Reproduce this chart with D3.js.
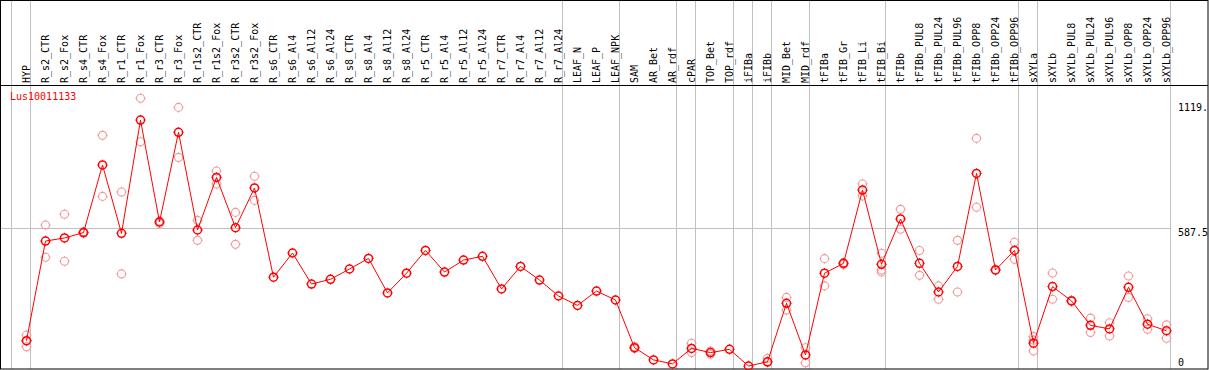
<!DOCTYPE html>
<html>
<head>
<meta charset="utf-8">
<script src="https://cdn.jsdelivr.net/npm/d3@7"></script>
<style>
body { margin: 0; background: #fff; }
text { font-family: "DejaVu Sans Mono", monospace; font-size: 10px; }
</style>
</head>
<body>
<script>
// sample names (columns)
var samples = ["HYP", "R_s2_CTR", "R_s2_Fox", "R_s4_CTR", "R_s4_Fox", "R_r1_CTR", "R_r1_Fox", "R_r3_CTR", "R_r3_Fox",
    "R_r1s2_CTR", "R_r1s2_Fox", "R_r3s2_CTR", "R_r3s2_Fox", "R_s6_CTR", "R_s6_Al4", "R_s6_Al12", "R_s6_Al24",
    "R_s8_CTR", "R_s8_Al4", "R_s8_Al12", "R_s8_Al24", "R_r5_CTR", "R_r5_Al4", "R_r5_Al12", "R_r5_Al24",
    "R_r7_CTR", "R_r7_Al4", "R_r7_Al12", "R_r7_Al24", "LEAF_N", "LEAF_P", "LEAF_NPK", "SAM", "AR_Bet", "AR_rdf",
    "cPAR", "TOP_Bet", "TOP_rdf", "iFIBa", "iFIBb", "MID_Bet", "MID_rdf", "tFIBa", "tFIB_Gr", "tFIB_Li", "tFIB_Bi",
    "tFIBb", "tFIBb_PUL8", "tFIBb_PUL24", "tFIBb_PUL96", "tFIBb_OPP8", "tFIBb_OPP24", "tFIBb_OPP96",
    "sXYLa", "sXYLb", "sXYLb_PUL8", "sXYLb_PUL24", "sXYLb_PUL96", "sXYLb_OPP8", "sXYLb_OPP24", "sXYLb_OPP96"];

// mean expression per sample
var means = [108, 532, 545, 568, 856, 565, 1047, 613, 995,
    579, 803, 589, 758, 378, 481, 349, 369,
    413, 458, 311, 395, 492, 400, 451, 467,
    328, 424, 366, 298, 258, 319, 281, 78, 26, 9,
    75, 57, 71, 0, 18, 267, 47, 395, 437, 749, 433,
    626, 437, 315, 424, 820, 409, 492,
    97, 338, 277, 173, 158, 335, 178, 150];

// replicate values (empty = single replicate)
var reps = [[132, 106, 82], [600, 463], [646, 446], [565, 572], [982, 722], [741, 392], [1140, 955], [617, 607], [1101, 888],
    [620, 535], [830, 775], [654, 518], [808, 705], [], [], [], [],
    [], [], [], [], [], [], [], [],
    [], [], [], [], [], [], [], [83, 74], [], [],
    [97, 57], [64, 50], [], [], [33, 15], [292, 238], [78, 14], [457, 341], [440, 432], [775, 724], [480, 409, 400],
    [667, 582], [492, 386], [341, 284], [535, 315], [969, 676], [411, 407], [527, 454],
    [125, 110, 64], [396, 284], [280, 275], [204, 143], [184, 128], [383, 292], [201, 156], [175, 118]];

// index of last sample in each group (vertical separators)
var groupEnds = [0, 28, 31, 34, 35, 37, 38, 39, 41, 45, 52, 53, 60];

var yTickValues = [1119, 587.5, 0];
var yTickLabels = ["1119.", "587.5", "0"];
var geneName = "Lus10011133";

var width = 1209, height = 370;
var mainColor = "#ff0000";
var repColor = "#f09a9a";
var gridColor = "#c0c0c0";

var svg = d3.select("body").append("svg")
    .attr("width", width)
    .attr("height", height);

var x = d3.scaleBand().domain(samples).range([11.5, 1170.5]);
var y = d3.scaleLinear().domain([0, 1175]).range([366, 90]);

function px(d) { return x(d) + 15; }

// vertical separators
var sepX = [x(samples[0])].concat(groupEnds.map(function (i) { return x(samples[i]) + x.bandwidth(); }));
svg.append("g").selectAll("line")
    .data(sepX)
    .enter().append("line")
    .attr("x1", function (d) { return d; })
    .attr("x2", function (d) { return d; })
    .attr("y1", 0)
    .attr("y2", 369)
    .attr("stroke", gridColor)
    .attr("stroke-width", 1);

// mid grid line
svg.append("line")
    .attr("x1", 1).attr("x2", 1170.5)
    .attr("y1", Math.round(y(587.5)) + 0.5).attr("y2", Math.round(y(587.5)) + 0.5)
    .attr("stroke", gridColor);

// frame
svg.append("rect")
    .attr("x", 0.5).attr("y", 0.5)
    .attr("width", 1207.5).attr("height", 368.5)
    .attr("fill", "none").attr("stroke", "#000");
svg.append("line")
    .attr("x1", 0).attr("x2", 1208)
    .attr("y1", 85.5).attr("y2", 85.5)
    .attr("stroke", "#000");

// column labels
svg.append("g").selectAll("text")
    .data(samples)
    .enter().append("text")
    .attr("transform", function (d) { return "translate(" + px(d) + ",83) rotate(-90)"; })
    .attr("dy", "0.3em")
    .attr("fill", "#000")
    .text(function (d) { return d; });

// y labels
svg.append("g").selectAll("text")
    .data(yTickValues)
    .enter().append("text")
    .attr("x", 1178)
    .attr("y", function (d) { return d === 0 ? y(d) : y(d) + 7.5; })
    .attr("fill", "#000")
    .text(function (d, i) { return yTickLabels[i]; });

svg.append("text")
    .attr("x", 10).attr("y", 100)
    .attr("fill", mainColor)
    .text(geneName);

function markerPath(r, t) {
    return "M" + (-r - t) + ",0H" + (-r) + "M" + r + ",0H" + (r + t) +
        "M0," + (-r - t) + "V" + (-r) + "M0," + r + "V" + (r + t);
}

function addMarkers(g, pts, color, sw) {
    var m = g.selectAll("g")
        .data(pts)
        .enter().append("g")
        .attr("transform", function (d) { return "translate(" + d[0] + "," + d[1] + ")"; });
    m.append("circle")
        .attr("r", 4)
        .attr("fill", "none")
        .attr("stroke", color)
        .attr("stroke-width", sw);
    m.append("path")
        .attr("d", markerPath(4, 1.3))
        .attr("stroke", color)
        .attr("stroke-width", 0.8);
}

// replicates
var repPts = [];
samples.forEach(function (s, i) {
    reps[i].forEach(function (v) { repPts.push([px(s), y(v)]); });
});
addMarkers(svg.append("g"), repPts, repColor, 1.1);

// mean line
var line = d3.line()
    .x(function (d, i) { return px(samples[i]); })
    .y(function (d) { return y(d); });
svg.append("path")
    .datum(means)
    .attr("d", line)
    .attr("fill", "none")
    .attr("stroke", mainColor)
    .attr("stroke-width", 1);

addMarkers(svg.append("g"), means.map(function (v, i) { return [px(samples[i]), y(v)]; }), mainColor, 1.5);
</script>
</body>
</html>
